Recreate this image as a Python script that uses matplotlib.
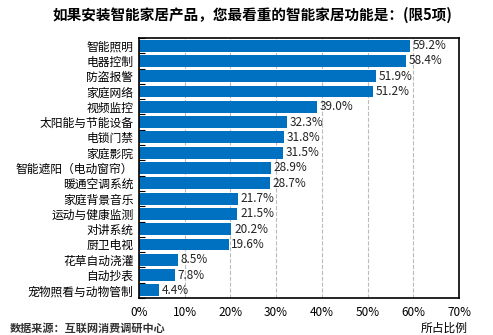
import numpy as np
from matplotlib import pyplot as plt
from matplotlib.ticker import FixedLocator

plt.rcParams['font.family'] = ['Noto Sans CJK SC', 'DejaVu Sans']

# 数据
categories = ['智能照明', '电器控制', '防盗报警', '家庭网络', '视频监控', '太阳能与节能设备',
              '电锁门禁', '家庭影院', '智能遮阳（电动窗帘）', '暖通空调系统', '家庭背景音乐',
              '运动与健康监测', '对讲系统', '厨卫电视', '花草自动浇灌', '自动抄表', '宠物照看与动物管制']
values = [59.2, 58.4, 51.9, 51.2, 39.0, 32.3, 31.8, 31.5, 28.9, 28.7, 21.7,
          21.5, 20.2, 19.6, 8.5, 7.8, 4.4]
x_ticks = [0, 10, 20, 30, 40, 50, 60, 70]

fig = plt.figure(figsize=(4.93, 3.35), dpi=100)
ax = fig.add_axes([139/493, 1 - 298/335, 320/493, 260/335])

y = np.arange(len(categories))
ax.barh(y, values, height=0.78, color='#0070C0', zorder=2)

# 数值标签
for yi, v in zip(y, values):
    ax.text(v + 0.6, yi, f'{v:.1f}%', va='center', ha='left', fontsize=8.5,
            color='#222222', zorder=3)

ax.set_xlim(0, 70)
ax.set_ylim(len(categories) - 0.5, -0.5)
ax.set_xticks(x_ticks)
ax.set_xticklabels([f'{t}%' for t in x_ticks], fontsize=8.5)
ax.set_yticks(y)
ax.set_yticklabels(categories, fontsize=8.5)
ax.tick_params(axis='y', length=0, pad=4)
ax.tick_params(axis='x', length=0, pad=6)
ax.yaxis.set_minor_locator(FixedLocator(np.arange(len(categories) + 1) - 0.5))
ax.tick_params(axis='y', which='minor', direction='in', length=4, width=0.8)

ax.grid(axis='x', linestyle='--', color='#bbbbbb', linewidth=0.8, zorder=0)
for s in ax.spines.values():
    s.set_linewidth(1.2)

fig.text(252/493, 1 - 15/335, '如果安装智能家居产品，您最看重的智能家居功能是：(限5项)',
         ha='center', va='center', fontsize=10.5, fontweight='bold')
fig.text(468/493, 1 - 328/335, '所占比例', ha='right', va='center', fontsize=8.5)
fig.text(10/493, 1 - 328/335, '数据来源：互联网消费调研中心', ha='left', va='center',
         fontsize=8, fontweight='bold', color='#333333')

fig.savefig('out.png', dpi=100)
